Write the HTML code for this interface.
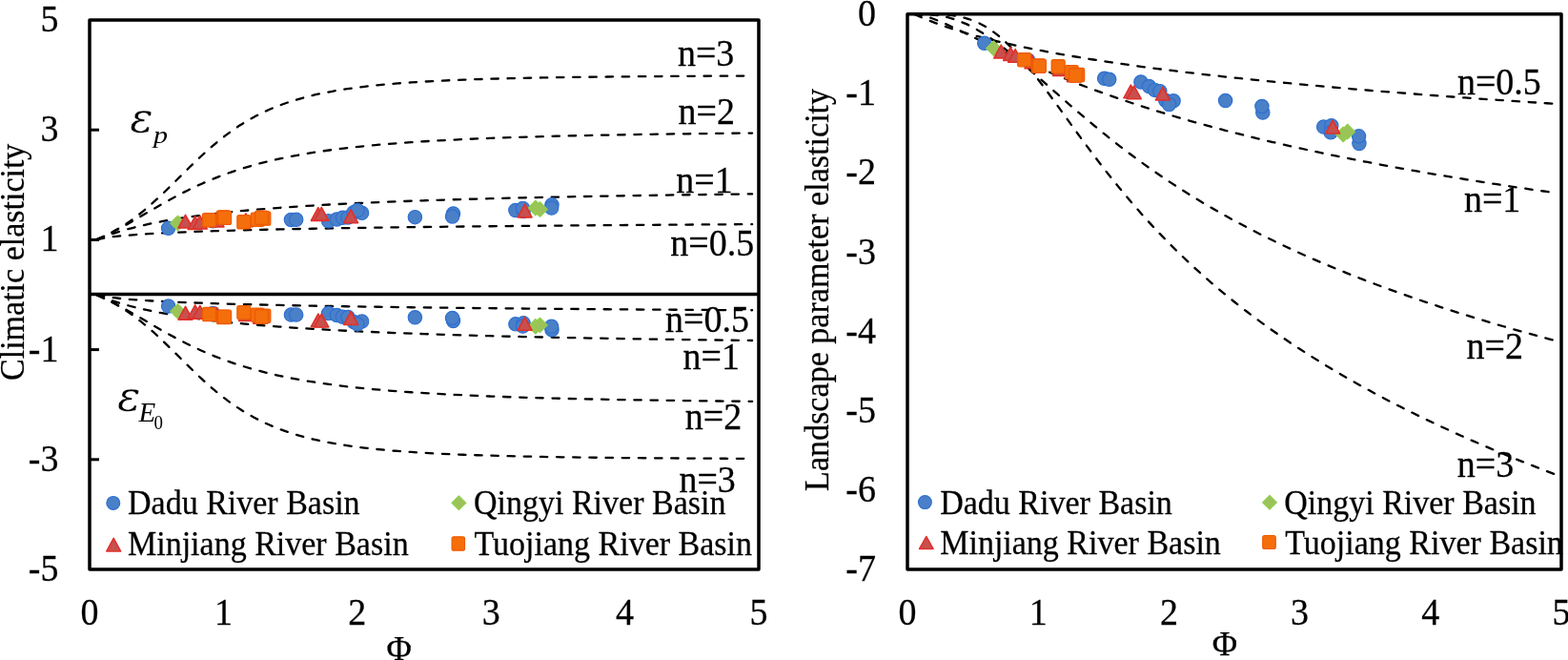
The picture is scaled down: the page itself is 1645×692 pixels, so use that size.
<!DOCTYPE html>
<html><head><meta charset="utf-8"><title>Elasticity</title>
<style>html,body{margin:0;padding:0;background:#fff;}body{width:1645px;height:692px;position:relative;overflow:hidden;}</style>
</head><body>
<svg width="1645" height="692" viewBox="0 0 1645 692" style="position:absolute;left:0;top:0">
<rect width="1645" height="692" fill="#fff"/>
<defs><clipPath id="cl"><rect x="94" y="21" width="702" height="576"/></clipPath><clipPath id="cr"><rect x="952" y="14.8" width="686" height="582.2"/></clipPath></defs>
<g fill="none" stroke="#000" stroke-width="2.3" stroke-dasharray="7.45 9.72" stroke-linecap="round">
<path clip-path="url(#cl)" stroke-dashoffset="16.20" d="M100.88,251.40 C103.18,250.95 110.06,249.42 114.65,248.72 C119.24,248.02 123.82,247.64 128.41,247.20 C133.00,246.76 137.59,246.41 142.18,246.07 C146.76,245.73 151.35,245.45 155.94,245.17 C160.53,244.89 165.12,244.65 169.71,244.41 C174.29,244.18 178.88,243.96 183.47,243.76 C188.06,243.56 192.65,243.37 197.24,243.19 C201.82,243.01 206.41,242.84 211.00,242.68 C215.59,242.52 220.18,242.36 224.76,242.22 C229.35,242.07 233.94,241.93 238.53,241.80 C243.12,241.67 247.71,241.54 252.29,241.42 C256.88,241.29 261.47,241.18 266.06,241.06 C270.65,240.95 275.24,240.84 279.82,240.73 C284.41,240.63 289.00,240.53 293.59,240.43 C298.18,240.33 302.76,240.23 307.35,240.14 C311.94,240.05 316.53,239.96 321.12,239.87 C325.71,239.79 330.29,239.70 334.88,239.62 C339.47,239.54 344.06,239.46 348.65,239.38 C353.24,239.30 357.82,239.23 362.41,239.15 C367.00,239.08 371.59,239.01 376.18,238.94 C380.76,238.87 385.35,238.80 389.94,238.73 C394.53,238.66 399.12,238.60 403.71,238.53 C408.29,238.47 412.88,238.41 417.47,238.35 C422.06,238.29 426.65,238.23 431.24,238.17 C435.82,238.11 440.41,238.05 445.00,238.00 C449.59,237.94 454.18,237.89 458.76,237.83 C463.35,237.78 467.94,237.72 472.53,237.67 C477.12,237.62 481.71,237.57 486.29,237.52 C490.88,237.47 495.47,237.42 500.06,237.37 C504.65,237.33 509.24,237.28 513.82,237.23 C518.41,237.19 523.00,237.14 527.59,237.09 C532.18,237.05 536.76,237.01 541.35,236.96 C545.94,236.92 550.53,236.88 555.12,236.83 C559.71,236.79 564.29,236.75 568.88,236.71 C573.47,236.67 578.06,236.63 582.65,236.59 C587.24,236.55 591.82,236.51 596.41,236.47 C601.00,236.44 605.59,236.40 610.18,236.36 C614.76,236.32 619.35,236.29 623.94,236.25 C628.53,236.21 633.12,236.18 637.71,236.14 C642.29,236.11 646.88,236.07 651.47,236.04 C656.06,236.01 660.65,235.97 665.24,235.94 C669.82,235.91 674.41,235.87 679.00,235.84 C683.59,235.81 688.18,235.78 692.76,235.74 C697.35,235.71 701.94,235.68 706.53,235.65 C711.12,235.62 715.71,235.59 720.29,235.56 C724.88,235.53 729.47,235.50 734.06,235.47 C738.65,235.44 743.24,235.41 747.82,235.38 C752.41,235.36 757.00,235.33 761.59,235.30 C766.18,235.27 770.76,235.24 775.35,235.22 C779.94,235.19 786.82,235.15 789.12,235.14"/>
<path clip-path="url(#cl)" stroke-dashoffset="16.20" d="M100.88,309.00 C103.18,309.45 110.06,310.98 114.65,311.68 C119.24,312.38 123.82,312.76 128.41,313.20 C133.00,313.64 137.59,313.99 142.18,314.33 C146.76,314.67 151.35,314.95 155.94,315.23 C160.53,315.51 165.12,315.75 169.71,315.99 C174.29,316.22 178.88,316.44 183.47,316.64 C188.06,316.84 192.65,317.03 197.24,317.21 C201.82,317.39 206.41,317.56 211.00,317.72 C215.59,317.88 220.18,318.04 224.76,318.18 C229.35,318.33 233.94,318.47 238.53,318.60 C243.12,318.73 247.71,318.86 252.29,318.98 C256.88,319.11 261.47,319.22 266.06,319.34 C270.65,319.45 275.24,319.56 279.82,319.67 C284.41,319.77 289.00,319.87 293.59,319.97 C298.18,320.07 302.76,320.17 307.35,320.26 C311.94,320.35 316.53,320.44 321.12,320.53 C325.71,320.61 330.29,320.70 334.88,320.78 C339.47,320.86 344.06,320.94 348.65,321.02 C353.24,321.10 357.82,321.17 362.41,321.25 C367.00,321.32 371.59,321.39 376.18,321.46 C380.76,321.53 385.35,321.60 389.94,321.67 C394.53,321.74 399.12,321.80 403.71,321.87 C408.29,321.93 412.88,321.99 417.47,322.05 C422.06,322.11 426.65,322.17 431.24,322.23 C435.82,322.29 440.41,322.35 445.00,322.40 C449.59,322.46 454.18,322.51 458.76,322.57 C463.35,322.62 467.94,322.68 472.53,322.73 C477.12,322.78 481.71,322.83 486.29,322.88 C490.88,322.93 495.47,322.98 500.06,323.03 C504.65,323.07 509.24,323.12 513.82,323.17 C518.41,323.21 523.00,323.26 527.59,323.31 C532.18,323.35 536.76,323.39 541.35,323.44 C545.94,323.48 550.53,323.52 555.12,323.57 C559.71,323.61 564.29,323.65 568.88,323.69 C573.47,323.73 578.06,323.77 582.65,323.81 C587.24,323.85 591.82,323.89 596.41,323.93 C601.00,323.96 605.59,324.00 610.18,324.04 C614.76,324.08 619.35,324.11 623.94,324.15 C628.53,324.19 633.12,324.22 637.71,324.26 C642.29,324.29 646.88,324.33 651.47,324.36 C656.06,324.39 660.65,324.43 665.24,324.46 C669.82,324.49 674.41,324.53 679.00,324.56 C683.59,324.59 688.18,324.62 692.76,324.66 C697.35,324.69 701.94,324.72 706.53,324.75 C711.12,324.78 715.71,324.81 720.29,324.84 C724.88,324.87 729.47,324.90 734.06,324.93 C738.65,324.96 743.24,324.99 747.82,325.02 C752.41,325.04 757.00,325.07 761.59,325.10 C766.18,325.13 770.76,325.16 775.35,325.18 C779.94,325.21 786.82,325.25 789.12,325.26"/>
<path clip-path="url(#cr)" stroke-dashoffset="15.90" d="M958.73,14.80 C960.97,15.74 967.69,18.61 972.18,20.42 C976.66,22.23 981.14,24.02 985.63,25.66 C990.11,27.30 994.59,28.82 999.08,30.28 C1003.56,31.73 1008.05,33.10 1012.53,34.41 C1017.01,35.73 1021.50,36.97 1025.98,38.17 C1030.46,39.37 1034.95,40.51 1039.43,41.62 C1043.92,42.73 1048.40,43.79 1052.88,44.82 C1057.37,45.85 1061.85,46.84 1066.33,47.80 C1070.82,48.76 1075.30,49.69 1079.78,50.60 C1084.27,51.50 1088.75,52.38 1093.24,53.23 C1097.72,54.09 1102.20,54.92 1106.69,55.73 C1111.17,56.54 1115.65,57.33 1120.14,58.10 C1124.62,58.87 1129.10,59.62 1133.59,60.35 C1138.07,61.09 1142.56,61.80 1147.04,62.51 C1151.52,63.21 1156.01,63.89 1160.49,64.57 C1164.97,65.24 1169.46,65.90 1173.94,66.55 C1178.42,67.19 1182.91,67.83 1187.39,68.45 C1191.88,69.07 1196.36,69.68 1200.84,70.28 C1205.33,70.88 1209.81,71.47 1214.29,72.04 C1218.78,72.62 1223.26,73.19 1227.75,73.75 C1232.23,74.31 1236.71,74.86 1241.20,75.40 C1245.68,75.94 1250.16,76.47 1254.65,76.99 C1259.13,77.52 1263.61,78.03 1268.10,78.54 C1272.58,79.05 1277.07,79.55 1281.55,80.04 C1286.03,80.53 1290.52,81.02 1295.00,81.50 C1299.48,81.98 1303.97,82.45 1308.45,82.92 C1312.93,83.38 1317.42,83.84 1321.90,84.30 C1326.39,84.75 1330.87,85.20 1335.35,85.64 C1339.84,86.08 1344.32,86.52 1348.80,86.95 C1353.29,87.38 1357.77,87.80 1362.25,88.22 C1366.74,88.64 1371.22,89.06 1375.71,89.47 C1380.19,89.88 1384.67,90.28 1389.16,90.68 C1393.64,91.08 1398.12,91.48 1402.61,91.87 C1407.09,92.26 1411.58,92.65 1416.06,93.03 C1420.54,93.42 1425.03,93.79 1429.51,94.17 C1433.99,94.54 1438.48,94.91 1442.96,95.28 C1447.44,95.65 1451.93,96.01 1456.41,96.37 C1460.90,96.73 1465.38,97.08 1469.86,97.43 C1474.35,97.79 1478.83,98.13 1483.31,98.48 C1487.80,98.82 1492.28,99.17 1496.76,99.50 C1501.25,99.84 1505.73,100.18 1510.22,100.51 C1514.70,100.84 1519.18,101.17 1523.67,101.49 C1528.15,101.82 1532.63,102.14 1537.12,102.46 C1541.60,102.78 1546.08,103.10 1550.57,103.41 C1555.05,103.73 1559.54,104.04 1564.02,104.34 C1568.50,104.65 1572.99,104.96 1577.47,105.26 C1581.95,105.56 1586.44,105.87 1590.92,106.16 C1595.41,106.46 1599.89,106.76 1604.37,107.05 C1608.86,107.34 1613.34,107.63 1617.82,107.92 C1622.31,108.21 1629.03,108.63 1631.27,108.78"/>
<path clip-path="url(#cl)" stroke-dashoffset="16.23" d="M100.88,251.40 C103.18,250.53 110.06,247.76 114.65,246.16 C119.24,244.56 123.82,243.14 128.41,241.80 C133.00,240.46 137.59,239.25 142.18,238.11 C146.76,236.96 151.35,235.93 155.94,234.94 C160.53,233.96 165.12,233.06 169.71,232.20 C174.29,231.34 178.88,230.55 183.47,229.80 C188.06,229.05 192.65,228.35 197.24,227.68 C201.82,227.02 206.41,226.39 211.00,225.80 C215.59,225.21 220.18,224.65 224.76,224.12 C229.35,223.58 233.94,223.08 238.53,222.60 C243.12,222.12 247.71,221.66 252.29,221.23 C256.88,220.79 261.47,220.38 266.06,219.98 C270.65,219.58 275.24,219.21 279.82,218.84 C284.41,218.48 289.00,218.13 293.59,217.80 C298.18,217.47 302.76,217.15 307.35,216.84 C311.94,216.53 316.53,216.24 321.12,215.95 C325.71,215.67 330.29,215.40 334.88,215.13 C339.47,214.87 344.06,214.62 348.65,214.37 C353.24,214.13 357.82,213.89 362.41,213.66 C367.00,213.43 371.59,213.21 376.18,213.00 C380.76,212.79 385.35,212.58 389.94,212.38 C394.53,212.18 399.12,211.99 403.71,211.80 C408.29,211.61 412.88,211.43 417.47,211.25 C422.06,211.08 426.65,210.91 431.24,210.74 C435.82,210.57 440.41,210.41 445.00,210.26 C449.59,210.10 454.18,209.95 458.76,209.80 C463.35,209.65 467.94,209.51 472.53,209.37 C477.12,209.23 481.71,209.09 486.29,208.96 C490.88,208.82 495.47,208.70 500.06,208.57 C504.65,208.44 509.24,208.32 513.82,208.20 C518.41,208.08 523.00,207.96 527.59,207.85 C532.18,207.73 536.76,207.62 541.35,207.51 C545.94,207.41 550.53,207.30 555.12,207.20 C559.71,207.09 564.29,206.99 568.88,206.89 C573.47,206.79 578.06,206.69 582.65,206.60 C587.24,206.51 591.82,206.41 596.41,206.32 C601.00,206.23 605.59,206.14 610.18,206.06 C614.76,205.97 619.35,205.88 623.94,205.80 C628.53,205.72 633.12,205.64 637.71,205.56 C642.29,205.48 646.88,205.40 651.47,205.32 C656.06,205.24 660.65,205.17 665.24,205.09 C669.82,205.02 674.41,204.95 679.00,204.88 C683.59,204.81 688.18,204.74 692.76,204.67 C697.35,204.60 701.94,204.53 706.53,204.47 C711.12,204.40 715.71,204.34 720.29,204.27 C724.88,204.21 729.47,204.15 734.06,204.09 C738.65,204.02 743.24,203.96 747.82,203.91 C752.41,203.85 757.00,203.79 761.59,203.73 C766.18,203.67 770.76,203.62 775.35,203.56 C779.94,203.51 786.82,203.43 789.12,203.40"/>
<path clip-path="url(#cl)" stroke-dashoffset="16.23" d="M100.88,309.00 C103.18,309.87 110.06,312.64 114.65,314.24 C119.24,315.84 123.82,317.26 128.41,318.60 C133.00,319.94 137.59,321.15 142.18,322.29 C146.76,323.44 151.35,324.47 155.94,325.46 C160.53,326.44 165.12,327.34 169.71,328.20 C174.29,329.06 178.88,329.85 183.47,330.60 C188.06,331.35 192.65,332.05 197.24,332.72 C201.82,333.38 206.41,334.01 211.00,334.60 C215.59,335.19 220.18,335.75 224.76,336.28 C229.35,336.82 233.94,337.32 238.53,337.80 C243.12,338.28 247.71,338.74 252.29,339.17 C256.88,339.61 261.47,340.02 266.06,340.42 C270.65,340.82 275.24,341.19 279.82,341.56 C284.41,341.92 289.00,342.27 293.59,342.60 C298.18,342.93 302.76,343.25 307.35,343.56 C311.94,343.87 316.53,344.16 321.12,344.45 C325.71,344.73 330.29,345.00 334.88,345.27 C339.47,345.53 344.06,345.78 348.65,346.03 C353.24,346.27 357.82,346.51 362.41,346.74 C367.00,346.97 371.59,347.19 376.18,347.40 C380.76,347.61 385.35,347.82 389.94,348.02 C394.53,348.22 399.12,348.41 403.71,348.60 C408.29,348.79 412.88,348.97 417.47,349.15 C422.06,349.32 426.65,349.49 431.24,349.66 C435.82,349.83 440.41,349.99 445.00,350.14 C449.59,350.30 454.18,350.45 458.76,350.60 C463.35,350.75 467.94,350.89 472.53,351.03 C477.12,351.17 481.71,351.31 486.29,351.44 C490.88,351.58 495.47,351.70 500.06,351.83 C504.65,351.96 509.24,352.08 513.82,352.20 C518.41,352.32 523.00,352.44 527.59,352.55 C532.18,352.67 536.76,352.78 541.35,352.89 C545.94,352.99 550.53,353.10 555.12,353.20 C559.71,353.31 564.29,353.41 568.88,353.51 C573.47,353.61 578.06,353.71 582.65,353.80 C587.24,353.89 591.82,353.99 596.41,354.08 C601.00,354.17 605.59,354.26 610.18,354.34 C614.76,354.43 619.35,354.52 623.94,354.60 C628.53,354.68 633.12,354.76 637.71,354.84 C642.29,354.92 646.88,355.00 651.47,355.08 C656.06,355.16 660.65,355.23 665.24,355.31 C669.82,355.38 674.41,355.45 679.00,355.52 C683.59,355.59 688.18,355.66 692.76,355.73 C697.35,355.80 701.94,355.87 706.53,355.93 C711.12,356.00 715.71,356.06 720.29,356.13 C724.88,356.19 729.47,356.25 734.06,356.31 C738.65,356.38 743.24,356.44 747.82,356.49 C752.41,356.55 757.00,356.61 761.59,356.67 C766.18,356.73 770.76,356.78 775.35,356.84 C779.94,356.89 786.82,356.97 789.12,357.00"/>
<path clip-path="url(#cr)" stroke-dashoffset="16.40" d="M958.73,14.80 C960.97,15.22 967.69,16.08 972.18,17.33 C976.66,18.58 981.14,20.47 985.63,22.29 C990.11,24.12 994.59,26.21 999.08,28.28 C1003.56,30.35 1008.05,32.54 1012.53,34.70 C1017.01,36.87 1021.50,39.08 1025.98,41.27 C1030.46,43.45 1034.95,45.65 1039.43,47.81 C1043.92,49.98 1048.40,52.13 1052.88,54.24 C1057.37,56.36 1061.85,58.45 1066.33,60.51 C1070.82,62.56 1075.30,64.59 1079.78,66.58 C1084.27,68.57 1088.75,70.53 1093.24,72.45 C1097.72,74.37 1102.20,76.26 1106.69,78.11 C1111.17,79.96 1115.65,81.78 1120.14,83.57 C1124.62,85.35 1129.10,87.10 1133.59,88.82 C1138.07,90.54 1142.56,92.23 1147.04,93.89 C1151.52,95.54 1156.01,97.17 1160.49,98.76 C1164.97,100.36 1169.46,101.93 1173.94,103.46 C1178.42,105.00 1182.91,106.51 1187.39,108.00 C1191.88,109.48 1196.36,110.94 1200.84,112.37 C1205.33,113.81 1209.81,115.21 1214.29,116.60 C1218.78,117.98 1223.26,119.34 1227.75,120.68 C1232.23,122.02 1236.71,123.33 1241.20,124.63 C1245.68,125.92 1250.16,127.19 1254.65,128.44 C1259.13,129.70 1263.61,130.93 1268.10,132.14 C1272.58,133.36 1277.07,134.55 1281.55,135.72 C1286.03,136.90 1290.52,138.06 1295.00,139.20 C1299.48,140.34 1303.97,141.46 1308.45,142.57 C1312.93,143.67 1317.42,144.76 1321.90,145.84 C1326.39,146.91 1330.87,147.97 1335.35,149.02 C1339.84,150.06 1344.32,151.09 1348.80,152.11 C1353.29,153.12 1357.77,154.12 1362.25,155.11 C1366.74,156.10 1371.22,157.07 1375.71,158.03 C1380.19,159.00 1384.67,159.95 1389.16,160.88 C1393.64,161.82 1398.12,162.74 1402.61,163.66 C1407.09,164.57 1411.58,165.47 1416.06,166.36 C1420.54,167.25 1425.03,168.13 1429.51,169.00 C1433.99,169.87 1438.48,170.72 1442.96,171.57 C1447.44,172.42 1451.93,173.26 1456.41,174.08 C1460.90,174.91 1465.38,175.73 1469.86,176.54 C1474.35,177.34 1478.83,178.14 1483.31,178.93 C1487.80,179.72 1492.28,180.50 1496.76,181.28 C1501.25,182.05 1505.73,182.81 1510.22,183.57 C1514.70,184.32 1519.18,185.07 1523.67,185.81 C1528.15,186.55 1532.63,187.28 1537.12,188.00 C1541.60,188.73 1546.08,189.44 1550.57,190.15 C1555.05,190.86 1559.54,191.56 1564.02,192.26 C1568.50,192.95 1572.99,193.64 1577.47,194.32 C1581.95,195.00 1586.44,195.67 1590.92,196.34 C1595.41,197.01 1599.89,197.67 1604.37,198.32 C1608.86,198.97 1613.34,199.62 1617.82,200.26 C1622.31,200.90 1629.03,201.85 1631.27,202.17"/>
<path clip-path="url(#cl)" stroke-dashoffset="16.20" d="M100.88,251.40 C103.18,250.35 110.06,247.35 114.65,245.10 C119.24,242.85 123.82,240.39 128.41,237.89 C133.00,235.39 137.59,232.73 142.18,230.09 C146.76,227.46 151.35,224.73 155.94,222.06 C160.53,219.40 165.12,216.71 169.71,214.12 C174.29,211.53 178.88,208.97 183.47,206.52 C188.06,204.07 192.65,201.69 197.24,199.43 C201.82,197.16 206.41,195.00 211.00,192.94 C215.59,190.88 220.18,188.94 224.76,187.09 C229.35,185.25 233.94,183.51 238.53,181.87 C243.12,180.23 247.71,178.70 252.29,177.24 C256.88,175.79 261.47,174.44 266.06,173.16 C270.65,171.88 275.24,170.69 279.82,169.56 C284.41,168.43 289.00,167.38 293.59,166.39 C298.18,165.39 302.76,164.47 307.35,163.60 C311.94,162.72 316.53,161.91 321.12,161.14 C325.71,160.36 330.29,159.64 334.88,158.96 C339.47,158.28 344.06,157.64 348.65,157.03 C353.24,156.43 357.82,155.86 362.41,155.32 C367.00,154.78 371.59,154.28 376.18,153.80 C380.76,153.32 385.35,152.87 389.94,152.44 C394.53,152.01 399.12,151.61 403.71,151.23 C408.29,150.84 412.88,150.48 417.47,150.13 C422.06,149.79 426.65,149.46 431.24,149.15 C435.82,148.84 440.41,148.55 445.00,148.26 C449.59,147.98 454.18,147.72 458.76,147.46 C463.35,147.21 467.94,146.97 472.53,146.73 C477.12,146.50 481.71,146.28 486.29,146.07 C490.88,145.86 495.47,145.66 500.06,145.47 C504.65,145.28 509.24,145.09 513.82,144.92 C518.41,144.74 523.00,144.57 527.59,144.41 C532.18,144.25 536.76,144.09 541.35,143.95 C545.94,143.80 550.53,143.66 555.12,143.52 C559.71,143.38 564.29,143.25 568.88,143.13 C573.47,143.00 578.06,142.88 582.65,142.76 C587.24,142.65 591.82,142.54 596.41,142.43 C601.00,142.32 605.59,142.22 610.18,142.12 C614.76,142.02 619.35,141.92 623.94,141.83 C628.53,141.73 633.12,141.64 637.71,141.56 C642.29,141.47 646.88,141.39 651.47,141.31 C656.06,141.23 660.65,141.15 665.24,141.07 C669.82,141.00 674.41,140.93 679.00,140.86 C683.59,140.79 688.18,140.72 692.76,140.65 C697.35,140.59 701.94,140.52 706.53,140.46 C711.12,140.40 715.71,140.34 720.29,140.28 C724.88,140.22 729.47,140.17 734.06,140.11 C738.65,140.06 743.24,140.01 747.82,139.96 C752.41,139.90 757.00,139.85 761.59,139.81 C766.18,139.76 770.76,139.71 775.35,139.67 C779.94,139.62 786.82,139.56 789.12,139.53"/>
<path clip-path="url(#cl)" stroke-dashoffset="16.20" d="M100.88,309.00 C103.18,310.05 110.06,313.05 114.65,315.30 C119.24,317.55 123.82,320.01 128.41,322.51 C133.00,325.01 137.59,327.67 142.18,330.31 C146.76,332.94 151.35,335.67 155.94,338.34 C160.53,341.00 165.12,343.69 169.71,346.28 C174.29,348.87 178.88,351.43 183.47,353.88 C188.06,356.33 192.65,358.71 197.24,360.97 C201.82,363.24 206.41,365.40 211.00,367.46 C215.59,369.52 220.18,371.46 224.76,373.31 C229.35,375.15 233.94,376.89 238.53,378.53 C243.12,380.17 247.71,381.70 252.29,383.16 C256.88,384.61 261.47,385.96 266.06,387.24 C270.65,388.52 275.24,389.71 279.82,390.84 C284.41,391.97 289.00,393.02 293.59,394.01 C298.18,395.01 302.76,395.93 307.35,396.80 C311.94,397.68 316.53,398.49 321.12,399.26 C325.71,400.04 330.29,400.76 334.88,401.44 C339.47,402.12 344.06,402.76 348.65,403.37 C353.24,403.97 357.82,404.54 362.41,405.08 C367.00,405.62 371.59,406.12 376.18,406.60 C380.76,407.08 385.35,407.53 389.94,407.96 C394.53,408.39 399.12,408.79 403.71,409.17 C408.29,409.56 412.88,409.92 417.47,410.27 C422.06,410.61 426.65,410.94 431.24,411.25 C435.82,411.56 440.41,411.85 445.00,412.14 C449.59,412.42 454.18,412.68 458.76,412.94 C463.35,413.19 467.94,413.43 472.53,413.67 C477.12,413.90 481.71,414.12 486.29,414.33 C490.88,414.54 495.47,414.74 500.06,414.93 C504.65,415.12 509.24,415.31 513.82,415.48 C518.41,415.66 523.00,415.83 527.59,415.99 C532.18,416.15 536.76,416.31 541.35,416.45 C545.94,416.60 550.53,416.74 555.12,416.88 C559.71,417.02 564.29,417.15 568.88,417.27 C573.47,417.40 578.06,417.52 582.65,417.64 C587.24,417.75 591.82,417.86 596.41,417.97 C601.00,418.08 605.59,418.18 610.18,418.28 C614.76,418.38 619.35,418.48 623.94,418.57 C628.53,418.67 633.12,418.76 637.71,418.84 C642.29,418.93 646.88,419.01 651.47,419.09 C656.06,419.17 660.65,419.25 665.24,419.33 C669.82,419.40 674.41,419.47 679.00,419.54 C683.59,419.61 688.18,419.68 692.76,419.75 C697.35,419.81 701.94,419.88 706.53,419.94 C711.12,420.00 715.71,420.06 720.29,420.12 C724.88,420.18 729.47,420.23 734.06,420.29 C738.65,420.34 743.24,420.39 747.82,420.44 C752.41,420.50 757.00,420.55 761.59,420.59 C766.18,420.64 770.76,420.69 775.35,420.73 C779.94,420.78 786.82,420.84 789.12,420.87"/>
<path clip-path="url(#cr)" stroke-dashoffset="16.84" d="M958.73,14.80 C960.97,14.84 967.69,14.78 972.18,15.06 C976.66,15.33 981.14,15.70 985.63,16.45 C990.11,17.21 994.59,18.21 999.08,19.58 C1003.56,20.95 1008.05,22.65 1012.53,24.66 C1017.01,26.67 1021.50,29.03 1025.98,31.64 C1030.46,34.24 1034.95,37.17 1039.43,40.27 C1043.92,43.36 1048.40,46.74 1052.88,50.21 C1057.37,53.68 1061.85,57.37 1066.33,61.10 C1070.82,64.83 1075.30,68.70 1079.78,72.59 C1084.27,76.47 1088.75,80.44 1093.24,84.39 C1097.72,88.34 1102.20,92.33 1106.69,96.28 C1111.17,100.23 1115.65,104.19 1120.14,108.09 C1124.62,111.99 1129.10,115.87 1133.59,119.69 C1138.07,123.50 1142.56,127.28 1147.04,131.00 C1151.52,134.71 1156.01,138.37 1160.49,141.97 C1164.97,145.56 1169.46,149.09 1173.94,152.56 C1178.42,156.03 1182.91,159.43 1187.39,162.77 C1191.88,166.11 1196.36,169.39 1200.84,172.60 C1205.33,175.81 1209.81,178.95 1214.29,182.04 C1218.78,185.12 1223.26,188.14 1227.75,191.10 C1232.23,194.06 1236.71,196.96 1241.20,199.81 C1245.68,202.66 1250.16,205.44 1254.65,208.17 C1259.13,210.91 1263.61,213.59 1268.10,216.21 C1272.58,218.84 1277.07,221.42 1281.55,223.94 C1286.03,226.47 1290.52,228.95 1295.00,231.38 C1299.48,233.81 1303.97,236.20 1308.45,238.54 C1312.93,240.88 1317.42,243.18 1321.90,245.44 C1326.39,247.70 1330.87,249.91 1335.35,252.09 C1339.84,254.27 1344.32,256.41 1348.80,258.52 C1353.29,260.62 1357.77,262.69 1362.25,264.72 C1366.74,266.75 1371.22,268.75 1375.71,270.72 C1380.19,272.68 1384.67,274.62 1389.16,276.52 C1393.64,278.42 1398.12,280.30 1402.61,282.14 C1407.09,283.98 1411.58,285.80 1416.06,287.58 C1420.54,289.37 1425.03,291.13 1429.51,292.87 C1433.99,294.60 1438.48,296.31 1442.96,297.99 C1447.44,299.68 1451.93,301.33 1456.41,302.97 C1460.90,304.61 1465.38,306.22 1469.86,307.81 C1474.35,309.40 1478.83,310.97 1483.31,312.51 C1487.80,314.06 1492.28,315.59 1496.76,317.09 C1501.25,318.60 1505.73,320.08 1510.22,321.55 C1514.70,323.02 1519.18,324.47 1523.67,325.90 C1528.15,327.33 1532.63,328.74 1537.12,330.13 C1541.60,331.53 1546.08,332.91 1550.57,334.27 C1555.05,335.63 1559.54,336.97 1564.02,338.30 C1568.50,339.63 1572.99,340.94 1577.47,342.24 C1581.95,343.54 1586.44,344.82 1590.92,346.09 C1595.41,347.36 1599.89,348.61 1604.37,349.85 C1608.86,351.09 1613.34,352.32 1617.82,353.53 C1622.31,354.74 1629.03,356.53 1631.27,357.13"/>
<path clip-path="url(#cl)" stroke-dashoffset="15.65" d="M100.88,251.40 C103.18,250.33 110.06,247.38 114.65,245.01 C119.24,242.64 123.82,240.05 128.41,237.16 C133.00,234.27 137.59,231.11 142.18,227.67 C146.76,224.23 151.35,220.47 155.94,216.52 C160.53,212.58 165.12,208.32 169.71,204.00 C174.29,199.67 178.88,195.09 183.47,190.59 C188.06,186.08 192.65,181.43 197.24,176.96 C201.82,172.49 206.41,168.00 211.00,163.76 C215.59,159.53 220.18,155.40 224.76,151.53 C229.35,147.67 233.94,144.01 238.53,140.60 C243.12,137.19 247.71,134.02 252.29,131.08 C256.88,128.14 261.47,125.45 266.06,122.96 C270.65,120.47 275.24,118.22 279.82,116.13 C284.41,114.04 289.00,112.17 293.59,110.43 C298.18,108.69 302.76,107.14 307.35,105.69 C311.94,104.24 316.53,102.96 321.12,101.75 C325.71,100.55 330.29,99.48 334.88,98.48 C339.47,97.48 344.06,96.59 348.65,95.76 C353.24,94.92 357.82,94.18 362.41,93.48 C367.00,92.78 371.59,92.15 376.18,91.57 C380.76,90.98 385.35,90.45 389.94,89.95 C394.53,89.46 399.12,89.01 403.71,88.59 C408.29,88.17 412.88,87.79 417.47,87.43 C422.06,87.07 426.65,86.74 431.24,86.43 C435.82,86.12 440.41,85.84 445.00,85.58 C449.59,85.31 454.18,85.07 458.76,84.84 C463.35,84.61 467.94,84.40 472.53,84.20 C477.12,84.00 481.71,83.82 486.29,83.64 C490.88,83.47 495.47,83.31 500.06,83.16 C504.65,83.01 509.24,82.86 513.82,82.73 C518.41,82.60 523.00,82.47 527.59,82.36 C532.18,82.24 536.76,82.13 541.35,82.02 C545.94,81.92 550.53,81.82 555.12,81.73 C559.71,81.64 564.29,81.55 568.88,81.47 C573.47,81.38 578.06,81.31 582.65,81.23 C587.24,81.16 591.82,81.09 596.41,81.02 C601.00,80.96 605.59,80.89 610.18,80.84 C614.76,80.78 619.35,80.72 623.94,80.67 C628.53,80.61 633.12,80.56 637.71,80.51 C642.29,80.46 646.88,80.42 651.47,80.38 C656.06,80.33 660.65,80.29 665.24,80.25 C669.82,80.21 674.41,80.17 679.00,80.14 C683.59,80.10 688.18,80.07 692.76,80.03 C697.35,80.00 701.94,79.97 706.53,79.94 C711.12,79.91 715.71,79.88 720.29,79.85 C724.88,79.82 729.47,79.80 734.06,79.77 C738.65,79.75 743.24,79.72 747.82,79.70 C752.41,79.68 757.00,79.65 761.59,79.63 C766.18,79.61 770.76,79.59 775.35,79.57 C779.94,79.55 786.82,79.52 789.12,79.52"/>
<path clip-path="url(#cl)" stroke-dashoffset="15.65" d="M100.88,309.00 C103.18,310.07 110.06,313.02 114.65,315.39 C119.24,317.76 123.82,320.35 128.41,323.24 C133.00,326.13 137.59,329.29 142.18,332.73 C146.76,336.17 151.35,339.93 155.94,343.88 C160.53,347.82 165.12,352.08 169.71,356.40 C174.29,360.73 178.88,365.31 183.47,369.81 C188.06,374.32 192.65,378.97 197.24,383.44 C201.82,387.91 206.41,392.40 211.00,396.64 C215.59,400.87 220.18,405.00 224.76,408.87 C229.35,412.73 233.94,416.39 238.53,419.80 C243.12,423.21 247.71,426.38 252.29,429.32 C256.88,432.26 261.47,434.95 266.06,437.44 C270.65,439.93 275.24,442.18 279.82,444.27 C284.41,446.36 289.00,448.23 293.59,449.97 C298.18,451.71 302.76,453.26 307.35,454.71 C311.94,456.16 316.53,457.44 321.12,458.65 C325.71,459.85 330.29,460.92 334.88,461.92 C339.47,462.92 344.06,463.81 348.65,464.64 C353.24,465.48 357.82,466.22 362.41,466.92 C367.00,467.62 371.59,468.25 376.18,468.83 C380.76,469.42 385.35,469.95 389.94,470.45 C394.53,470.94 399.12,471.39 403.71,471.81 C408.29,472.23 412.88,472.61 417.47,472.97 C422.06,473.33 426.65,473.66 431.24,473.97 C435.82,474.28 440.41,474.56 445.00,474.82 C449.59,475.09 454.18,475.33 458.76,475.56 C463.35,475.79 467.94,476.00 472.53,476.20 C477.12,476.40 481.71,476.58 486.29,476.76 C490.88,476.93 495.47,477.09 500.06,477.24 C504.65,477.39 509.24,477.54 513.82,477.67 C518.41,477.80 523.00,477.93 527.59,478.04 C532.18,478.16 536.76,478.27 541.35,478.38 C545.94,478.48 550.53,478.58 555.12,478.67 C559.71,478.76 564.29,478.85 568.88,478.93 C573.47,479.02 578.06,479.09 582.65,479.17 C587.24,479.24 591.82,479.31 596.41,479.38 C601.00,479.44 605.59,479.51 610.18,479.56 C614.76,479.62 619.35,479.68 623.94,479.73 C628.53,479.79 633.12,479.84 637.71,479.89 C642.29,479.94 646.88,479.98 651.47,480.02 C656.06,480.07 660.65,480.11 665.24,480.15 C669.82,480.19 674.41,480.23 679.00,480.26 C683.59,480.30 688.18,480.33 692.76,480.37 C697.35,480.40 701.94,480.43 706.53,480.46 C711.12,480.49 715.71,480.52 720.29,480.55 C724.88,480.58 729.47,480.60 734.06,480.63 C738.65,480.65 743.24,480.68 747.82,480.70 C752.41,480.72 757.00,480.75 761.59,480.77 C766.18,480.79 770.76,480.81 775.35,480.83 C779.94,480.85 786.82,480.88 789.12,480.88"/>
<path clip-path="url(#cr)" stroke-dashoffset="15.72" d="M958.73,14.80 C960.97,14.80 967.69,14.77 972.18,14.82 C976.66,14.88 981.14,14.89 985.63,15.12 C990.11,15.35 994.59,15.60 999.08,16.23 C1003.56,16.85 1008.05,17.61 1012.53,18.86 C1017.01,20.12 1021.50,21.66 1025.98,23.75 C1030.46,25.85 1034.95,28.38 1039.43,31.45 C1043.92,34.51 1048.40,38.11 1052.88,42.14 C1057.37,46.17 1061.85,50.75 1066.33,55.62 C1070.82,60.50 1075.30,65.86 1079.78,71.38 C1084.27,76.90 1088.75,82.80 1093.24,88.73 C1097.72,94.67 1102.20,100.86 1106.69,107.00 C1111.17,113.15 1115.65,119.43 1120.14,125.62 C1124.62,131.80 1129.10,138.02 1133.59,144.12 C1138.07,150.23 1142.56,156.29 1147.04,162.23 C1151.52,168.16 1156.01,174.02 1160.49,179.74 C1164.97,185.45 1169.46,191.06 1173.94,196.54 C1178.42,202.02 1182.91,207.37 1187.39,212.59 C1191.88,217.82 1196.36,222.92 1200.84,227.90 C1205.33,232.87 1209.81,237.72 1214.29,242.46 C1218.78,247.20 1223.26,251.81 1227.75,256.32 C1232.23,260.83 1236.71,265.22 1241.20,269.52 C1245.68,273.81 1250.16,278.00 1254.65,282.09 C1259.13,286.19 1263.61,290.18 1268.10,294.09 C1272.58,298.00 1277.07,301.81 1281.55,305.55 C1286.03,309.29 1290.52,312.93 1295.00,316.51 C1299.48,320.09 1303.97,323.58 1308.45,327.01 C1312.93,330.44 1317.42,333.79 1321.90,337.08 C1326.39,340.38 1330.87,343.60 1335.35,346.76 C1339.84,349.93 1344.32,353.02 1348.80,356.07 C1353.29,359.11 1357.77,362.10 1362.25,365.03 C1366.74,367.97 1371.22,370.85 1375.71,373.68 C1380.19,376.51 1384.67,379.29 1389.16,382.03 C1393.64,384.77 1398.12,387.45 1402.61,390.10 C1407.09,392.75 1411.58,395.35 1416.06,397.91 C1420.54,400.47 1425.03,402.99 1429.51,405.47 C1433.99,407.96 1438.48,410.40 1442.96,412.81 C1447.44,415.22 1451.93,417.59 1456.41,419.93 C1460.90,422.26 1465.38,424.57 1469.86,426.84 C1474.35,429.11 1478.83,431.35 1483.31,433.56 C1487.80,435.77 1492.28,437.95 1496.76,440.10 C1501.25,442.25 1505.73,444.38 1510.22,446.47 C1514.70,448.57 1519.18,450.63 1523.67,452.68 C1528.15,454.72 1532.63,456.73 1537.12,458.73 C1541.60,460.72 1546.08,462.68 1550.57,464.63 C1555.05,466.57 1559.54,468.49 1564.02,470.39 C1568.50,472.29 1572.99,474.16 1577.47,476.02 C1581.95,477.87 1586.44,479.71 1590.92,481.52 C1595.41,483.33 1599.89,485.12 1604.37,486.90 C1608.86,488.67 1613.34,490.43 1617.82,492.16 C1622.31,493.90 1629.03,496.45 1631.27,497.31"/>
</g>
<circle cx="176.59" cy="239.36" r="7.15" fill="#4A80C8" stroke="#2E6FD0" stroke-width="1.2"/>
<circle cx="223.45" cy="231.87" r="7.15" fill="#4A80C8" stroke="#2E6FD0" stroke-width="1.2"/>
<circle cx="305.41" cy="230.40" r="7.15" fill="#4A80C8" stroke="#2E6FD0" stroke-width="1.2"/>
<circle cx="310.72" cy="230.28" r="7.15" fill="#4A80C8" stroke="#2E6FD0" stroke-width="1.2"/>
<circle cx="344.60" cy="231.80" r="7.15" fill="#4A80C8" stroke="#2E6FD0" stroke-width="1.2"/>
<circle cx="353.34" cy="229.93" r="7.15" fill="#4A80C8" stroke="#2E6FD0" stroke-width="1.2"/>
<circle cx="359.50" cy="228.25" r="7.15" fill="#4A80C8" stroke="#2E6FD0" stroke-width="1.2"/>
<circle cx="365.03" cy="227.97" r="7.15" fill="#4A80C8" stroke="#2E6FD0" stroke-width="1.2"/>
<circle cx="371.02" cy="222.83" r="7.15" fill="#4A80C8" stroke="#2E6FD0" stroke-width="1.2"/>
<circle cx="379.60" cy="223.35" r="7.15" fill="#4A80C8" stroke="#2E6FD0" stroke-width="1.2"/>
<circle cx="374.94" cy="220.51" r="7.15" fill="#4A80C8" stroke="#2E6FD0" stroke-width="1.2"/>
<circle cx="435.38" cy="227.64" r="7.15" fill="#4A80C8" stroke="#2E6FD0" stroke-width="1.2"/>
<circle cx="475.50" cy="223.95" r="7.15" fill="#4A80C8" stroke="#2E6FD0" stroke-width="1.2"/>
<circle cx="474.58" cy="226.95" r="7.15" fill="#4A80C8" stroke="#2E6FD0" stroke-width="1.2"/>
<circle cx="540.84" cy="220.53" r="7.15" fill="#4A80C8" stroke="#2E6FD0" stroke-width="1.2"/>
<circle cx="549.15" cy="221.54" r="7.15" fill="#4A80C8" stroke="#2E6FD0" stroke-width="1.2"/>
<circle cx="548.48" cy="218.39" r="7.15" fill="#4A80C8" stroke="#2E6FD0" stroke-width="1.2"/>
<circle cx="578.98" cy="214.69" r="7.15" fill="#4A80C8" stroke="#2E6FD0" stroke-width="1.2"/>
<circle cx="578.62" cy="218.06" r="7.15" fill="#4A80C8" stroke="#2E6FD0" stroke-width="1.2"/>
<path d="M186.55,226.24 L194.35,234.04 L186.55,241.84 L178.75,234.04 Z" fill="#9BC35A" stroke="#8FD04A" stroke-width="1.2" stroke-linejoin="round"/>
<path d="M561.82,210.28 L569.62,218.08 L561.82,225.88 L554.02,218.08 Z" fill="#9BC35A" stroke="#8FD04A" stroke-width="1.2" stroke-linejoin="round"/>
<path d="M566.48,211.75 L574.28,219.55 L566.48,227.35 L558.68,219.55 Z" fill="#9BC35A" stroke="#8FD04A" stroke-width="1.2" stroke-linejoin="round"/>
<path d="M194.54,225.30 L201.99,239.00 L187.09,239.00 Z" fill="#C8504E" stroke="#E0302A" stroke-width="1.6" stroke-linejoin="round"/>
<path d="M204.66,226.82 L212.11,240.52 L197.21,240.52 Z" fill="#C8504E" stroke="#E0302A" stroke-width="1.6" stroke-linejoin="round"/>
<path d="M209.77,226.23 L217.22,239.93 L202.32,239.93 Z" fill="#C8504E" stroke="#E0302A" stroke-width="1.6" stroke-linejoin="round"/>
<path d="M227.52,224.19 L234.97,237.89 L220.07,237.89 Z" fill="#C8504E" stroke="#E0302A" stroke-width="1.6" stroke-linejoin="round"/>
<path d="M257.87,223.89 L265.32,237.59 L250.42,237.59 Z" fill="#C8504E" stroke="#E0302A" stroke-width="1.6" stroke-linejoin="round"/>
<path d="M273.04,221.32 L280.49,235.02 L265.59,235.02 Z" fill="#C8504E" stroke="#E0302A" stroke-width="1.6" stroke-linejoin="round"/>
<path d="M333.82,217.65 L341.27,231.35 L326.37,231.35 Z" fill="#C8504E" stroke="#E0302A" stroke-width="1.6" stroke-linejoin="round"/>
<path d="M337.26,217.45 L344.71,231.15 L329.81,231.15 Z" fill="#C8504E" stroke="#E0302A" stroke-width="1.6" stroke-linejoin="round"/>
<path d="M368.13,219.97 L375.58,233.67 L360.68,233.67 Z" fill="#C8504E" stroke="#E0302A" stroke-width="1.6" stroke-linejoin="round"/>
<path d="M550.60,214.13 L558.05,227.83 L543.15,227.83 Z" fill="#C8504E" stroke="#E0302A" stroke-width="1.6" stroke-linejoin="round"/>
<rect x="212.47" y="223.67" width="14.00" height="14.30" rx="2" fill="#F46E0C" stroke="#F05A00" stroke-width="1.2"/>
<rect x="227.35" y="220.77" width="14.00" height="14.30" rx="2" fill="#F46E0C" stroke="#F05A00" stroke-width="1.2"/>
<rect x="228.61" y="221.11" width="14.00" height="14.30" rx="2" fill="#F46E0C" stroke="#F05A00" stroke-width="1.2"/>
<rect x="248.84" y="225.60" width="14.00" height="14.30" rx="2" fill="#F46E0C" stroke="#F05A00" stroke-width="1.2"/>
<rect x="263.25" y="223.03" width="14.00" height="14.30" rx="2" fill="#F46E0C" stroke="#F05A00" stroke-width="1.2"/>
<rect x="269.83" y="221.92" width="14.00" height="14.30" rx="2" fill="#F46E0C" stroke="#F05A00" stroke-width="1.2"/>
<rect x="267.55" y="221.13" width="14.00" height="14.30" rx="2" fill="#F46E0C" stroke="#F05A00" stroke-width="1.2"/>
<circle cx="176.59" cy="321.04" r="7.15" fill="#4A80C8" stroke="#2E6FD0" stroke-width="1.2"/>
<circle cx="223.45" cy="328.53" r="7.15" fill="#4A80C8" stroke="#2E6FD0" stroke-width="1.2"/>
<circle cx="305.41" cy="330.00" r="7.15" fill="#4A80C8" stroke="#2E6FD0" stroke-width="1.2"/>
<circle cx="310.72" cy="330.12" r="7.15" fill="#4A80C8" stroke="#2E6FD0" stroke-width="1.2"/>
<circle cx="344.60" cy="328.60" r="7.15" fill="#4A80C8" stroke="#2E6FD0" stroke-width="1.2"/>
<circle cx="353.34" cy="330.47" r="7.15" fill="#4A80C8" stroke="#2E6FD0" stroke-width="1.2"/>
<circle cx="359.50" cy="332.15" r="7.15" fill="#4A80C8" stroke="#2E6FD0" stroke-width="1.2"/>
<circle cx="365.03" cy="332.43" r="7.15" fill="#4A80C8" stroke="#2E6FD0" stroke-width="1.2"/>
<circle cx="371.02" cy="337.57" r="7.15" fill="#4A80C8" stroke="#2E6FD0" stroke-width="1.2"/>
<circle cx="379.60" cy="337.05" r="7.15" fill="#4A80C8" stroke="#2E6FD0" stroke-width="1.2"/>
<circle cx="374.94" cy="339.89" r="7.15" fill="#4A80C8" stroke="#2E6FD0" stroke-width="1.2"/>
<circle cx="435.38" cy="332.76" r="7.15" fill="#4A80C8" stroke="#2E6FD0" stroke-width="1.2"/>
<circle cx="475.50" cy="336.45" r="7.15" fill="#4A80C8" stroke="#2E6FD0" stroke-width="1.2"/>
<circle cx="474.58" cy="333.45" r="7.15" fill="#4A80C8" stroke="#2E6FD0" stroke-width="1.2"/>
<circle cx="540.84" cy="339.87" r="7.15" fill="#4A80C8" stroke="#2E6FD0" stroke-width="1.2"/>
<circle cx="549.15" cy="338.86" r="7.15" fill="#4A80C8" stroke="#2E6FD0" stroke-width="1.2"/>
<circle cx="548.48" cy="342.01" r="7.15" fill="#4A80C8" stroke="#2E6FD0" stroke-width="1.2"/>
<circle cx="578.98" cy="345.71" r="7.15" fill="#4A80C8" stroke="#2E6FD0" stroke-width="1.2"/>
<circle cx="578.62" cy="342.34" r="7.15" fill="#4A80C8" stroke="#2E6FD0" stroke-width="1.2"/>
<path d="M186.55,318.56 L194.35,326.36 L186.55,334.16 L178.75,326.36 Z" fill="#9BC35A" stroke="#8FD04A" stroke-width="1.2" stroke-linejoin="round"/>
<path d="M561.82,334.52 L569.62,342.32 L561.82,350.12 L554.02,342.32 Z" fill="#9BC35A" stroke="#8FD04A" stroke-width="1.2" stroke-linejoin="round"/>
<path d="M566.48,333.05 L574.28,340.85 L566.48,348.65 L558.68,340.85 Z" fill="#9BC35A" stroke="#8FD04A" stroke-width="1.2" stroke-linejoin="round"/>
<path d="M194.54,321.40 L201.99,335.10 L187.09,335.10 Z" fill="#C8504E" stroke="#E0302A" stroke-width="1.6" stroke-linejoin="round"/>
<path d="M204.66,319.88 L212.11,333.58 L197.21,333.58 Z" fill="#C8504E" stroke="#E0302A" stroke-width="1.6" stroke-linejoin="round"/>
<path d="M209.77,320.47 L217.22,334.17 L202.32,334.17 Z" fill="#C8504E" stroke="#E0302A" stroke-width="1.6" stroke-linejoin="round"/>
<path d="M227.52,322.51 L234.97,336.21 L220.07,336.21 Z" fill="#C8504E" stroke="#E0302A" stroke-width="1.6" stroke-linejoin="round"/>
<path d="M257.87,322.81 L265.32,336.51 L250.42,336.51 Z" fill="#C8504E" stroke="#E0302A" stroke-width="1.6" stroke-linejoin="round"/>
<path d="M273.04,325.38 L280.49,339.08 L265.59,339.08 Z" fill="#C8504E" stroke="#E0302A" stroke-width="1.6" stroke-linejoin="round"/>
<path d="M333.82,329.05 L341.27,342.75 L326.37,342.75 Z" fill="#C8504E" stroke="#E0302A" stroke-width="1.6" stroke-linejoin="round"/>
<path d="M337.26,329.25 L344.71,342.95 L329.81,342.95 Z" fill="#C8504E" stroke="#E0302A" stroke-width="1.6" stroke-linejoin="round"/>
<path d="M368.13,326.73 L375.58,340.43 L360.68,340.43 Z" fill="#C8504E" stroke="#E0302A" stroke-width="1.6" stroke-linejoin="round"/>
<path d="M550.60,332.57 L558.05,346.27 L543.15,346.27 Z" fill="#C8504E" stroke="#E0302A" stroke-width="1.6" stroke-linejoin="round"/>
<rect x="212.47" y="322.42" width="14.00" height="14.30" rx="2" fill="#F46E0C" stroke="#F05A00" stroke-width="1.2"/>
<rect x="227.35" y="325.33" width="14.00" height="14.30" rx="2" fill="#F46E0C" stroke="#F05A00" stroke-width="1.2"/>
<rect x="228.61" y="324.99" width="14.00" height="14.30" rx="2" fill="#F46E0C" stroke="#F05A00" stroke-width="1.2"/>
<rect x="248.84" y="320.50" width="14.00" height="14.30" rx="2" fill="#F46E0C" stroke="#F05A00" stroke-width="1.2"/>
<rect x="263.25" y="323.07" width="14.00" height="14.30" rx="2" fill="#F46E0C" stroke="#F05A00" stroke-width="1.2"/>
<rect x="269.83" y="324.18" width="14.00" height="14.30" rx="2" fill="#F46E0C" stroke="#F05A00" stroke-width="1.2"/>
<rect x="267.55" y="324.97" width="14.00" height="14.30" rx="2" fill="#F46E0C" stroke="#F05A00" stroke-width="1.2"/>
<circle cx="1032.70" cy="45.18" r="7.15" fill="#4A80C8" stroke="#2E6FD0" stroke-width="1.2"/>
<circle cx="1078.50" cy="63.07" r="7.15" fill="#4A80C8" stroke="#2E6FD0" stroke-width="1.2"/>
<circle cx="1158.60" cy="82.27" r="7.15" fill="#4A80C8" stroke="#2E6FD0" stroke-width="1.2"/>
<circle cx="1163.78" cy="83.35" r="7.15" fill="#4A80C8" stroke="#2E6FD0" stroke-width="1.2"/>
<circle cx="1196.88" cy="85.97" r="7.15" fill="#4A80C8" stroke="#2E6FD0" stroke-width="1.2"/>
<circle cx="1205.43" cy="90.54" r="7.15" fill="#4A80C8" stroke="#2E6FD0" stroke-width="1.2"/>
<circle cx="1211.45" cy="94.38" r="7.15" fill="#4A80C8" stroke="#2E6FD0" stroke-width="1.2"/>
<circle cx="1216.85" cy="95.67" r="7.15" fill="#4A80C8" stroke="#2E6FD0" stroke-width="1.2"/>
<circle cx="1222.70" cy="105.22" r="7.15" fill="#4A80C8" stroke="#2E6FD0" stroke-width="1.2"/>
<circle cx="1231.09" cy="105.81" r="7.15" fill="#4A80C8" stroke="#2E6FD0" stroke-width="1.2"/>
<circle cx="1226.54" cy="109.58" r="7.15" fill="#4A80C8" stroke="#2E6FD0" stroke-width="1.2"/>
<circle cx="1285.60" cy="105.55" r="7.15" fill="#4A80C8" stroke="#2E6FD0" stroke-width="1.2"/>
<circle cx="1324.80" cy="118.02" r="7.15" fill="#4A80C8" stroke="#2E6FD0" stroke-width="1.2"/>
<circle cx="1323.91" cy="111.43" r="7.15" fill="#4A80C8" stroke="#2E6FD0" stroke-width="1.2"/>
<circle cx="1388.66" cy="133.03" r="7.15" fill="#4A80C8" stroke="#2E6FD0" stroke-width="1.2"/>
<circle cx="1396.77" cy="131.64" r="7.15" fill="#4A80C8" stroke="#2E6FD0" stroke-width="1.2"/>
<circle cx="1396.12" cy="138.68" r="7.15" fill="#4A80C8" stroke="#2E6FD0" stroke-width="1.2"/>
<circle cx="1425.93" cy="150.55" r="7.15" fill="#4A80C8" stroke="#2E6FD0" stroke-width="1.2"/>
<circle cx="1425.58" cy="142.86" r="7.15" fill="#4A80C8" stroke="#2E6FD0" stroke-width="1.2"/>
<path d="M1042.44,42.81 L1050.24,50.61 L1042.44,58.41 L1034.64,50.61 Z" fill="#9BC35A" stroke="#8FD04A" stroke-width="1.2" stroke-linejoin="round"/>
<path d="M1409.16,133.12 L1416.96,140.92 L1409.16,148.72 L1401.36,140.92 Z" fill="#9BC35A" stroke="#8FD04A" stroke-width="1.2" stroke-linejoin="round"/>
<path d="M1413.71,130.29 L1421.51,138.09 L1413.71,145.89 L1405.91,138.09 Z" fill="#9BC35A" stroke="#8FD04A" stroke-width="1.2" stroke-linejoin="round"/>
<path d="M1050.25,47.19 L1057.70,60.89 L1042.80,60.89 Z" fill="#C8504E" stroke="#E0302A" stroke-width="1.6" stroke-linejoin="round"/>
<path d="M1060.14,49.70 L1067.59,63.40 L1052.69,63.40 Z" fill="#C8504E" stroke="#E0302A" stroke-width="1.6" stroke-linejoin="round"/>
<path d="M1065.13,51.55 L1072.58,65.25 L1057.68,65.25 Z" fill="#C8504E" stroke="#E0302A" stroke-width="1.6" stroke-linejoin="round"/>
<path d="M1082.47,57.96 L1089.92,71.66 L1075.02,71.66 Z" fill="#C8504E" stroke="#E0302A" stroke-width="1.6" stroke-linejoin="round"/>
<path d="M1112.13,65.69 L1119.58,79.39 L1104.68,79.39 Z" fill="#C8504E" stroke="#E0302A" stroke-width="1.6" stroke-linejoin="round"/>
<path d="M1126.96,71.91 L1134.41,85.61 L1119.51,85.61 Z" fill="#C8504E" stroke="#E0302A" stroke-width="1.6" stroke-linejoin="round"/>
<path d="M1186.35,89.11 L1193.80,102.81 L1178.90,102.81 Z" fill="#C8504E" stroke="#E0302A" stroke-width="1.6" stroke-linejoin="round"/>
<path d="M1189.72,90.05 L1197.17,103.75 L1182.27,103.75 Z" fill="#C8504E" stroke="#E0302A" stroke-width="1.6" stroke-linejoin="round"/>
<path d="M1219.88,91.29 L1227.33,104.99 L1212.43,104.99 Z" fill="#C8504E" stroke="#E0302A" stroke-width="1.6" stroke-linejoin="round"/>
<path d="M1398.19,126.24 L1405.64,139.94 L1390.74,139.94 Z" fill="#C8504E" stroke="#E0302A" stroke-width="1.6" stroke-linejoin="round"/>
<rect x="1067.61" y="55.54" width="14.00" height="14.30" rx="2" fill="#F46E0C" stroke="#F05A00" stroke-width="1.2"/>
<rect x="1082.15" y="61.91" width="14.00" height="14.30" rx="2" fill="#F46E0C" stroke="#F05A00" stroke-width="1.2"/>
<rect x="1083.38" y="62.03" width="14.00" height="14.30" rx="2" fill="#F46E0C" stroke="#F05A00" stroke-width="1.2"/>
<rect x="1103.15" y="62.69" width="14.00" height="14.30" rx="2" fill="#F46E0C" stroke="#F05A00" stroke-width="1.2"/>
<rect x="1117.23" y="68.70" width="14.00" height="14.30" rx="2" fill="#F46E0C" stroke="#F05A00" stroke-width="1.2"/>
<rect x="1123.66" y="71.41" width="14.00" height="14.30" rx="2" fill="#F46E0C" stroke="#F05A00" stroke-width="1.2"/>
<rect x="1121.44" y="71.83" width="14.00" height="14.30" rx="2" fill="#F46E0C" stroke="#F05A00" stroke-width="1.2"/>
<g fill="none" stroke="#000" stroke-width="3.5" stroke-linejoin="round">
<rect x="94" y="21" width="702" height="576"/>
<line x1="94" y1="308.6" x2="796" y2="308.6"/>
<rect x="952" y="14.8" width="686" height="582.2"/>
</g>
<g stroke="#000" stroke-width="3">
<line x1="94" y1="136.20" x2="104" y2="136.20"/>
<line x1="94" y1="251.40" x2="104" y2="251.40"/>
<line x1="94" y1="366.60" x2="104" y2="366.60"/>
<line x1="94" y1="481.80" x2="104" y2="481.80"/>
</g>
<g font-family="Liberation Serif, serif" font-size="38" fill="#000" stroke="#000" stroke-width="0.25">
<text transform="translate(61.50,33.00) scale(1,1.045)" text-anchor="end">5</text>
<text transform="translate(61.50,148.20) scale(1,1.045)" text-anchor="end">3</text>
<text transform="translate(61.50,263.40) scale(1,1.045)" text-anchor="end">1</text>
<text transform="translate(61.50,378.60) scale(1,1.045)" text-anchor="end">-1</text>
<text transform="translate(61.50,493.80) scale(1,1.045)" text-anchor="end">-3</text>
<text transform="translate(61.50,609.00) scale(1,1.045)" text-anchor="end">-5</text>
<text transform="translate(919.00,27.00) scale(1,1.045)" text-anchor="end">0</text>
<text transform="translate(919.00,110.17) scale(1,1.045)" text-anchor="end">-1</text>
<text transform="translate(919.00,193.34) scale(1,1.045)" text-anchor="end">-2</text>
<text transform="translate(919.00,276.51) scale(1,1.045)" text-anchor="end">-3</text>
<text transform="translate(919.00,359.69) scale(1,1.045)" text-anchor="end">-4</text>
<text transform="translate(919.00,442.86) scale(1,1.045)" text-anchor="end">-5</text>
<text transform="translate(919.00,526.03) scale(1,1.045)" text-anchor="end">-6</text>
<text transform="translate(919.00,609.20) scale(1,1.045)" text-anchor="end">-7</text>
<text transform="translate(94.00,654.60) scale(1,1.045)" text-anchor="middle">0</text>
<text transform="translate(952.00,654.80) scale(1,1.045)" text-anchor="middle">0</text>
<text transform="translate(234.40,654.60) scale(1,1.045)" text-anchor="middle">1</text>
<text transform="translate(1089.20,654.80) scale(1,1.045)" text-anchor="middle">1</text>
<text transform="translate(374.80,654.60) scale(1,1.045)" text-anchor="middle">2</text>
<text transform="translate(1226.40,654.80) scale(1,1.045)" text-anchor="middle">2</text>
<text transform="translate(515.20,654.60) scale(1,1.045)" text-anchor="middle">3</text>
<text transform="translate(1363.60,654.80) scale(1,1.045)" text-anchor="middle">3</text>
<text transform="translate(655.60,654.60) scale(1,1.045)" text-anchor="middle">4</text>
<text transform="translate(1500.80,654.80) scale(1,1.045)" text-anchor="middle">4</text>
<text transform="translate(796.00,654.60) scale(1,1.045)" text-anchor="middle">5</text>
<text transform="translate(1638.00,654.80) scale(1,1.045)" text-anchor="middle">5</text>
<text transform="translate(710.90,68.50) scale(1,1.045)">n=3</text>
<text transform="translate(711.50,130.00) scale(1,1.045)">n=2</text>
<text transform="translate(709.30,201.60) scale(1,1.045)">n=1</text>
<text transform="translate(703.30,267.50) scale(1,1.045)">n=0.5</text>
<text transform="translate(698.10,348.40) scale(1,1.045)">n=0.5</text>
<text transform="translate(716.60,386.60) scale(1,1.045)">n=1</text>
<text transform="translate(718.80,449.60) scale(1,1.045)">n=2</text>
<text transform="translate(712.40,516.40) scale(1,1.045)">n=3</text>
<text transform="translate(1528.90,99.00) scale(1,1.045)">n=0.5</text>
<text transform="translate(1535.90,222.00) scale(1,1.045)">n=1</text>
<text transform="translate(1538.50,376.30) scale(1,1.045)">n=2</text>
<text transform="translate(1528.70,499.90) scale(1,1.045)">n=3</text>
</g>
<g font-family="Liberation Serif, serif" font-size="36" fill="#000" stroke="#000" stroke-width="0.25" text-anchor="middle"><text transform="translate(418.60,691.80) scale(1,1.0)">Φ</text><text transform="translate(1284.80,686.70) scale(1,1.0)">Φ</text></g>
<g font-family="Liberation Serif, serif" font-size="34" fill="#000" stroke="#000" stroke-width="0.25" text-anchor="middle">
<text transform="translate(25,274.8) rotate(-90) scale(1,1.05)">Climatic elasticity</text>
<text transform="translate(869.2,303.9) rotate(-90) scale(1.003,1.04)">Landscape parameter elasticity</text>
</g>
<g font-family="Liberation Serif, serif" font-size="34" fill="#000" stroke="#000" stroke-width="0.25">
<text transform="translate(134.00,539.20) scale(1,1.05)">Dadu River Basin</text>
<text transform="translate(134.00,581.60) scale(1,1.05)">Minjiang River Basin</text>
<text transform="translate(497.00,539.20) scale(1,1.05)">Qingyi River Basin</text>
<text transform="translate(497.50,581.70) scale(1,1.05)">Tuojiang River Basin</text>
<text transform="translate(986.20,539.20) scale(1,1.05)">Dadu River Basin</text>
<text transform="translate(986.20,580.70) scale(1,1.05)">Minjiang River Basin</text>
<text transform="translate(1347.20,538.80) scale(1,1.05)">Qingyi River Basin</text>
<text transform="translate(1348.30,580.60) scale(1,1.05)">Tuojiang River Basin</text>
</g>
<circle cx="118.80" cy="527.40" r="6.90" fill="#4A80C8" stroke="#2E6FD0" stroke-width="1.2"/>
<path d="M119.20,564.35 L126.65,578.05 L111.75,578.05 Z" fill="#C8504E" stroke="#E0302A" stroke-width="1.6" stroke-linejoin="round"/>
<path d="M481.40,519.90 L488.80,527.30 L481.40,534.70 L474.00,527.30 Z" fill="#9BC35A" stroke="#8FD04A" stroke-width="1.2" stroke-linejoin="round"/>
<rect x="474.10" y="562.80" width="13.40" height="14.40" rx="2" fill="#F46E0C" stroke="#F05A00" stroke-width="1.2"/>
<circle cx="970.40" cy="526.60" r="6.90" fill="#4A80C8" stroke="#2E6FD0" stroke-width="1.2"/>
<path d="M971.80,562.55 L979.00,575.45 L964.60,575.45 Z" fill="#C8504E" stroke="#E0302A" stroke-width="1.6" stroke-linejoin="round"/>
<path d="M1332.00,519.40 L1339.40,526.80 L1332.00,534.20 L1324.60,526.80 Z" fill="#9BC35A" stroke="#8FD04A" stroke-width="1.2" stroke-linejoin="round"/>
<rect x="1324.75" y="561.50" width="13.50" height="14.00" rx="2" fill="#F46E0C" stroke="#F05A00" stroke-width="1.2"/>
<g fill="#000">
<text x="136.5" y="138.6" font-family="DejaVu Serif, serif" font-style="italic" font-size="45" stroke="#fff" stroke-width="0.35">ε</text>
<text transform="translate(161,149.6) scale(1.2,1)" font-family="Liberation Serif, serif" font-style="italic" font-size="25">p</text>
<text x="123.2" y="431.2" font-family="DejaVu Serif, serif" font-style="italic" font-size="45" stroke="#fff" stroke-width="0.35">ε</text>
<text x="145.5" y="442" font-family="Liberation Serif, serif" font-style="italic" font-size="29">E</text>
<text transform="translate(161.5,449.7) scale(0.9,1.03)" font-family="Liberation Serif, serif" font-size="21">0</text>
</g>
</svg>
</body></html>
